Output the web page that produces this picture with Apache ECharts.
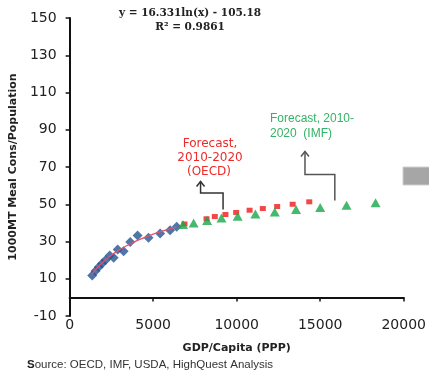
<!DOCTYPE html>
<html><head><meta charset="utf-8">
<script src="https://cdn.jsdelivr.net/npm/echarts@6/dist/echarts.min.js"></script>
<style>html,body{margin:0;padding:0;background:#fff}#c{width:429px;height:370px}</style>
</head><body><div id="c"></div>
<script>
// Historical (blue diamonds)
const histX = [1351,1548,1746,1944,2143,2401,2639,2877,3234,3631,4067,4722,5417,6012,6409];
const histY = [11.8,14.1,16.3,18.2,20.0,22.5,21.3,25.7,24.8,29.7,33.2,32.0,34.3,36.1,37.9];
// Trend line
const trendX = [1350,1600,2000,2500,3000,3500,4000,4500,5000,5700,6400];
const trendY = [12.5,15.3,19.0,22.6,25.6,28.1,30.3,32.2,33.9,36.0,37.9];
// OECD forecast (red squares)
const oecdX = [6875,8196,8690,9327,9970,10774,11565,12423,13351,14345];
const oecdY = [39.4,42.2,43.4,44.5,45.6,46.8,47.7,48.8,50.0,51.3];
// IMF forecast (green triangles)
const imfX = [6786,7423,8232,9089,10060,11119,12280,13554,15000,16577,18315];
const imfY = [39.1,39.9,41.3,42.6,43.5,44.8,45.8,47.2,48.3,49.4,50.8];
// Tick labels
const yTicks = [-10,10,30,50,70,90,110,130,150];
const xTicks = [0,5000,10000,15000,20000];
// Annotation arrows in data coordinates
const oecdArrow = [[9185,47.2],[9185,56.1],[7839,56.1],[7839,62.2]];
const imfArrow = [[15875,52.0],[15875,66.0],[14089,66.0],[14089,78.3]];

const zip = (a,b) => a.map((v,i)=>[v,b[i]]);
const chart = echarts.init(document.getElementById('c'), null, {renderer:'canvas'});
const labelFont = {fontFamily:'DejaVu Sans', fontSize:14, color:'#222'};
chart.setOption({
  animation:false,
  backgroundColor:'#fff',
  grid:{left:69, right:24, top:18, bottom:54, containLabel:false},
  xAxis:[{
    type:'value', min:0, max:20000, interval:5000,
    axisLine:{show:false, onZero:false}, axisTick:{show:false}, splitLine:{show:false},
    axisLabel:Object.assign({margin:2, customValues:xTicks, formatter:v=>String(v)}, labelFont),
    name:'GDP/Capita (PPP)', nameLocation:'middle', nameGap:27,
    nameTextStyle:{fontFamily:'DejaVu Sans', fontSize:11, fontWeight:'bold', color:'#222'}
  },{
    type:'value', min:0, max:20000, interval:5000, position:'bottom',
    axisLine:{show:true, onZero:true, lineStyle:{color:'#111', width:2}},
    axisTick:{show:true, inside:false, length:4, lineStyle:{color:'#111', width:1.5}},
    axisLabel:{show:false}, splitLine:{show:false}
  }],
  yAxis:{
    type:'value', min:-10, max:150,
    axisLine:{show:true, onZero:false, lineStyle:{color:'#111', width:2}},
    axisTick:{show:true, length:4, customValues:yTicks, lineStyle:{color:'#111', width:1.5}},
    axisLabel:Object.assign({margin:13, customValues:yTicks, formatter:v=>String(v)}, labelFont),
    splitLine:{show:false},
    name:'1000MT Meal Cons/Population', nameLocation:'middle', nameGap:50, nameRotate:90,
    nameTextStyle:{fontFamily:'DejaVu Sans', fontSize:11, fontWeight:'bold', color:'#222'}
  },
  series:[
    {type:'scatter', name:'Historical', data:zip(histX,histY), symbol:'diamond', symbolSize:[10,10],
     itemStyle:{color:'#245291'}},
    {type:'line', name:'Trend', data:zip(trendX,trendY), smooth:true, showSymbol:false,
     lineStyle:{color:'#e8506a', width:1.3}},
    {type:'scatter', name:'OECD', data:zip(oecdX,oecdY), symbol:'rect', symbolSize:[6,5],
     itemStyle:{color:'#f01818'}},
    {type:'scatter', name:'IMF', data:zip(imfX,imfY), symbol:'triangle', symbolSize:[10,9],
     itemStyle:{color:'#16a84a'}}
  ]
});

function arrowGraphic(pts, color){
  const p = pts.map(d => chart.convertToPixel({gridIndex:0}, d));
  const tip = p[p.length-1];
  return [
    {type:'polyline', shape:{points:p}, style:{stroke:color, lineWidth:1.5, fill:null}, silent:true},
    {type:'polyline', shape:{points:[[tip[0]-4,tip[1]+5],tip,[tip[0]+4,tip[1]+5]]}, style:{stroke:color, lineWidth:1.5, fill:null}, silent:true}
  ];
}
const txt = (x,y,text,font,fill,align,weight) => ({type:'text', x:x, y:y, silent:true,
  style:{text:text, fontFamily:font.f, fontSize:font.s, fontWeight:weight||'normal', fill:fill, align:align||'center', verticalAlign:'middle'}});
const sans = {f:'DejaVu Sans', s:12};
const arial = {f:'Liberation Sans', s:12};
const serif = {f:'DejaVu Serif', s:10.5};
chart.setOption({graphic:[
  ...arrowGraphic(oecdArrow, '#333'),
  ...arrowGraphic(imfArrow, '#555'),
  txt(190,13,'y = 16.331ln(x) - 105.18',serif,'#222','center','bold'),
  txt(190,27,'R² = 0.9861',serif,'#222','center','bold'),
  txt(210,144,'Forecast,',sans,'#ee2a2a'),
  txt(210,158,'2010-2020',sans,'#ee2a2a'),
  txt(209,172,'(OECD)',sans,'#ee2a2a'),
  txt(270,119,'Forecast, 2010-',arial,'#33b366','left'),
  txt(270,134,'2020  (IMF)',arial,'#33b366','left'),
  {type:'rect', shape:{x:403,y:167,width:28,height:18}, style:{fill:'#a6a6a6', stroke:'#cfcfcf', lineWidth:1}, silent:true},
  {type:'text', x:27, y:365, silent:true, style:{
    text:'{b|S}ource: OECD, IMF, USDA, HighQuest Analysis', fontFamily:'Liberation Sans', fontSize:11.5, fill:'#333', verticalAlign:'middle',
    rich:{b:{fontFamily:'Liberation Sans', fontSize:11.5, fontWeight:'bold', fill:'#222'}}}}
]});
</script></body></html>
